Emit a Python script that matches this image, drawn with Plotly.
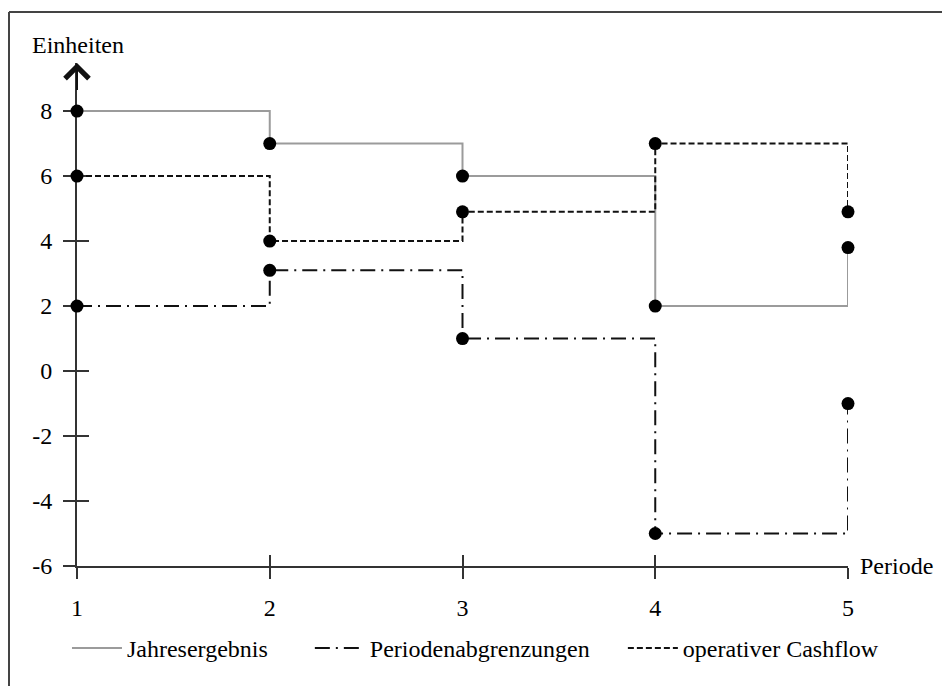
import plotly.graph_objects as go

perioden = [1, 2, 3, 4, 5]
jahresergebnis = [8, 7, 6, 2, 3.8]
periodenabgrenzungen = [2, 3.1, 1, -5, -1]
operativer_cashflow = [6, 4, 4.9, 7, 4.9]
y_ticks = [-6, -4, -2, 0, 2, 4, 6, 8]
y_ticktext = ["-6", "-4", "-2", "0", "2", "4", "6", "8"]
x_ticks = [1, 2, 3, 4, 5]
x_ticktext = ["1", "2", "3", "4", "5"]

series_names = ["Jahresergebnis", "Periodenabgrenzungen", "operativer Cashflow"]
series_values = [jahresergebnis, periodenabgrenzungen, operativer_cashflow]
series_styles = [
    dict(color="#9b9b9b", width=2, dash="solid"),
    dict(color="#111111", width=2, dash="15px,6px,2px,6px"),
    dict(color="#111111", width=2, dash="6px,3px"),
]
legend_ids = ["legend", "legend2", "legend3"]
legend_x = [-0.013, 0.302, 0.708]

FONT = "Liberation Serif, Times New Roman, serif"
FS = 24
AX = "#333333"

fig = go.Figure()
for name, vals, style, lg in zip(series_names, series_values, series_styles, legend_ids):
    fig.add_trace(go.Scatter(
        x=perioden, y=vals, mode="lines", name=name, legend=lg,
        line=dict(shape="hv", **style), cliponaxis=False, hoverinfo="skip",
    ))
for name, vals in zip(series_names, series_values):
    fig.add_trace(go.Scatter(
        x=perioden, y=vals, mode="markers", showlegend=False,
        marker=dict(size=13, color="#000000"), cliponaxis=False, hoverinfo="skip",
    ))
# helper trace for overlay axes (inside half of crossing ticks)
fig.add_trace(go.Scatter(x=[None], y=[None], xaxis="x2", yaxis="y2",
                         showlegend=False, hoverinfo="skip"))

y_range = [-6, 9.48]
x_range = [1, 5]

legend_common = dict(orientation="h", yanchor="top", y=-0.119, xanchor="left",
                     font=dict(size=FS, family=FONT, color="#000000"),
                     itemwidth=50, bgcolor="rgba(0,0,0,0)")

fig.update_layout(
    width=942, height=678,
    paper_bgcolor="white", plot_bgcolor="white",
    margin=dict(l=69, r=102, t=55, b=120),
    font=dict(family=FONT, size=FS, color="#000000"),
    xaxis=dict(range=x_range, tickvals=x_ticks, ticktext=x_ticktext,
               ticks="outside", ticklen=11, ticklabelstandoff=8,
               tickwidth=2, tickcolor=AX, showline=True, linecolor=AX, linewidth=2,
               showgrid=False, zeroline=False, layer="below traces",
               tickfont=dict(size=FS, family=FONT, color="#000000")),
    yaxis=dict(range=y_range, tickvals=y_ticks, ticktext=y_ticktext,
               ticks="outside", ticklen=12, ticklabelstandoff=6,
               tickwidth=2, tickcolor=AX, showline=True, linecolor=AX, linewidth=2,
               showgrid=False, zeroline=False, layer="below traces",
               tickfont=dict(size=FS, family=FONT, color="#000000")),
    xaxis2=dict(range=x_range, tickvals=x_ticks, ticks="inside", ticklen=11,
                tickwidth=2, tickcolor=AX, showticklabels=False, showline=False,
                showgrid=False, zeroline=False, overlaying="x", anchor="y2",
                side="bottom", layer="below traces"),
    yaxis2=dict(range=y_range, tickvals=y_ticks, ticks="inside", ticklen=12,
                tickwidth=2, tickcolor=AX, showticklabels=False, showline=False,
                showgrid=False, zeroline=False, overlaying="y", anchor="x2",
                side="left", layer="below traces"),
    showlegend=True,
)
for lg, lx in zip(legend_ids, legend_x):
    fig.update_layout({lg: dict(x=lx, **legend_common)})

# y-axis arrow head
fig.add_annotation(x=1, y=y_range[1], ax=1, ay=8.6, xref="x", yref="y",
                   axref="x", ayref="y", text="", showarrow=True,
                   arrowhead=4, arrowsize=2.3, arrowwidth=2, arrowcolor="#111111")
# axis titles
fig.add_annotation(x=-0.061, y=1.036, xref="paper", yref="paper", text="Einheiten",
                   showarrow=False, xanchor="left", yanchor="middle",
                   font=dict(size=FS, family=FONT))
fig.add_annotation(x=1.013, y=0.0, xref="paper", yref="paper", text="Periode",
                   showarrow=False, xanchor="left", yanchor="middle",
                   font=dict(size=FS, family=FONT))
# outer frame (left and top)
fig.add_shape(type="line", xref="paper", yref="paper", x0=-0.0882, x1=-0.0882,
              y0=-0.3, y1=1.1014, line=dict(color="#444444", width=2))
fig.add_shape(type="line", xref="paper", yref="paper", x0=-0.0882, x1=1.2,
              y0=1.1014, y1=1.1014, line=dict(color="#444444", width=2))

fig.write_html("out.html")
